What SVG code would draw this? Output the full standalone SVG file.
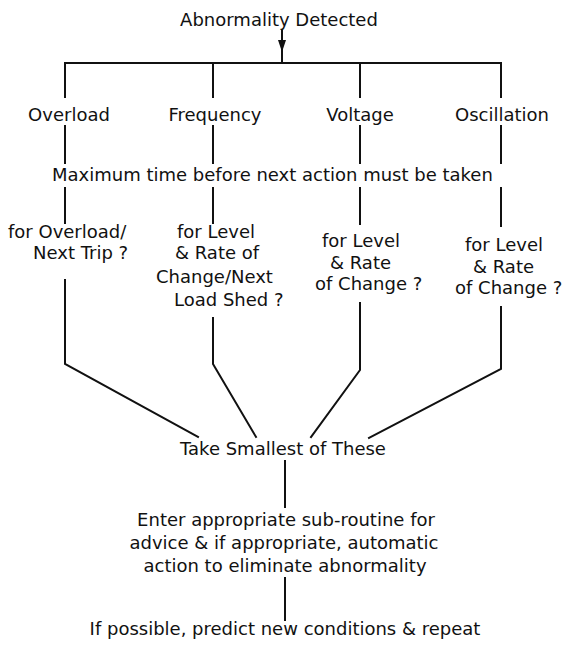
<svg xmlns="http://www.w3.org/2000/svg" width="565" height="651" viewBox="0 0 565 651">
<style>
text{font-family:"DejaVu Sans","Liberation Sans",sans-serif;font-size:18px;fill:#111}
.m{text-anchor:middle}
.c{fill:none;stroke:#111;stroke-width:2;stroke-linecap:square}
.ah{fill:#111}
</style>
<rect width="565" height="651" fill="#fff"/>
<g id="connectors">
<path class="c" d="M282,30 V63"/>
<polygon class="ah" points="278,40 286,40 282,52"/>
<path class="c" d="M65,63 H501"/>
<path class="c" d="M65,63 V97 M213,63 V97 M360,63 V97 M501,63 V97"/>
<path class="c" d="M65,126 V163 M213,126 V163 M360,126 V163 M501,126 V163"/>
<path class="c" d="M65,188 V223 M213,188 V223 M360,188 V224 M501,188 V226"/>
<path class="c" d="M65,280 V364 L198,437"/>
<path class="c" d="M213,318 V364 L256,437"/>
<path class="c" d="M360,303 V370 L311,437"/>
<path class="c" d="M501,307 V369 L369,438"/>
<path class="c" d="M285,461 V507"/>
<path class="c" d="M285,578 V620"/>
</g>
<g id="n-abnormality"><text class="m" x="279" y="26">Abnormality Detected</text></g>
<g id="n-overload"><text class="m" x="69" y="121">Overload</text></g>
<g id="n-frequency"><text class="m" x="215" y="121">Frequency</text></g>
<g id="n-voltage"><text class="m" x="360" y="121">Voltage</text></g>
<g id="n-oscillation"><text class="m" x="502" y="121">Oscillation</text></g>
<g id="n-maxtime"><text x="52" y="181">Maximum time before next action must be taken</text></g>
<g id="n-q-overload">
<text x="8" y="238">for Overload/</text>
<text x="33" y="259">Next Trip ?</text>
</g>
<g id="n-q-frequency">
<text x="177" y="238">for Level</text>
<text x="175" y="259">&amp; Rate of</text>
<text x="156" y="283">Change/Next</text>
<text x="174" y="306">Load Shed ?</text>
</g>
<g id="n-q-voltage">
<text x="322" y="247">for Level</text>
<text x="330" y="269">&amp; Rate</text>
<text x="315" y="290">of Change ?</text>
</g>
<g id="n-q-oscillation">
<text x="465" y="251">for Level</text>
<text x="473" y="273">&amp; Rate</text>
<text x="455" y="294">of Change ?</text>
</g>
<g id="n-smallest"><text class="m" x="283" y="455">Take Smallest of These</text></g>
<g id="n-enter">
<text class="m" x="286" y="526">Enter appropriate sub-routine for</text>
<text class="m" x="284" y="549">advice &amp; if appropriate, automatic</text>
<text class="m" x="285" y="572">action to eliminate abnormality</text>
</g>
<g id="n-predict"><text class="m" x="285" y="635">If possible, predict new conditions &amp; repeat</text></g>
</svg>
